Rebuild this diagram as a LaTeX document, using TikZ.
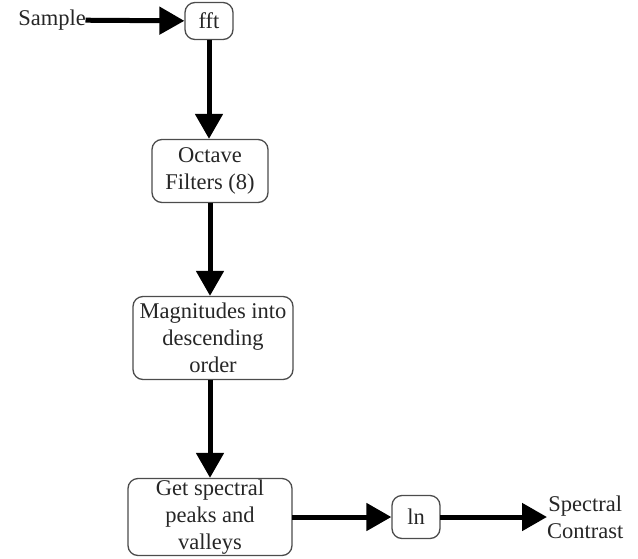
\documentclass[tikz,border=0pt]{standalone}
\usepackage{fontspec}
\setmainfont{Liberation Serif}
\usetikzlibrary{arrows.meta, positioning}

\begin{document}
\begin{tikzpicture}[x=1pt, y=-1pt, >={Triangle[length=25pt, width=27pt]},
  font=\fontsize{22.5}{27}\selectfont,
  box/.style={draw=black!70, line width=1.3pt, rounded corners=10pt, align=center,
    inner sep=1pt, text=black!85},
  flow/.style={->, line width=5pt, shorten <=-0.5pt}]
\useasboundingbox (0,0) rectangle (638,558);
\node[text=black!85, anchor=east, inner sep=0pt] (sample) at (86,20) {Sample};
\node[box, minimum width=48pt, minimum height=37pt] (fft) at (209,21) {fft};
\node[box, minimum width=116pt, minimum height=63pt] (oct) at (210,171) {Octave\\Filters (8)};
\node[box, minimum width=160pt, minimum height=83pt] (mag) at (213,338)
   {Magnitudes into\\descending\\order};
\node[box, minimum width=164pt, minimum height=77pt] (get) at (210,517)
   {Get spectral\\peaks and\\valleys};
\node[box, minimum width=48pt, minimum height=43pt] (ln) at (416,517) {ln};
\node[text=black!85, anchor=west, align=center, inner sep=0pt] (contrast) at (547,517)
   {Spectral\\Contrast};
\draw[flow] (sample) -- (fft);
\draw[flow] (fft) -- (fft |- oct.north);
\draw[flow] (oct) -- (oct |- mag.north);
\draw[flow] (oct |- mag.south) -- (oct |- get.north);
\draw[flow] (get) -- (ln);
\draw[flow] (ln) -- (contrast);
\end{tikzpicture}
\end{document}
